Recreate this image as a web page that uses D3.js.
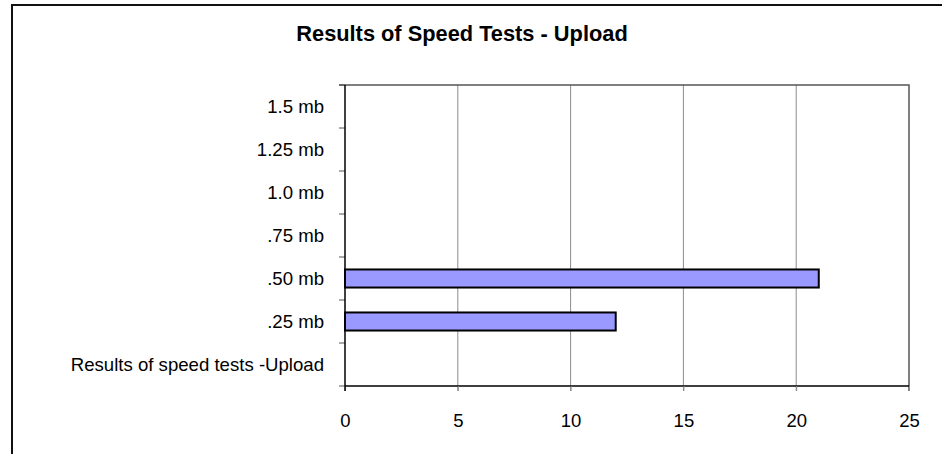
<!DOCTYPE html>
<html>
<head>
<meta charset="utf-8">
<script src="https://cdn.jsdelivr.net/npm/d3@7"></script>
<style>
  html, body { margin: 0; padding: 0; background: #fff; }
  svg { display: block; font-family: "Liberation Sans", Arial, sans-serif; }
</style>
</head>
<body>
<div id="chart"></div>
<script>
// categories top to bottom, as they appear on the chart
var categories = ["1.5 mb", "1.25 mb", "1.0 mb", ".75 mb", ".50 mb", ".25 mb", "Results of speed tests -Upload"];
var values = [null, null, null, null, 21, 12, null];
var xTicks = [0, 5, 10, 15, 20, 25];
var title = "Results of Speed Tests - Upload";

/**Draws the horizontal bar chart into #chart.
 * Plot area is fixed to match the original spreadsheet picture.
 */
function draw_chart() {

   var width = 942, height = 454;
   var plot = {left: 345, right: 909, top: 85, bottom: 386};

   var svg = d3.select("#chart")
               .append("svg")
               .attr("width", width)
               .attr("height", height);

   // outer chart frame (only left and top edges are visible)
   svg.append("path")
      .attr("d", "M12,454 L12,5 L942,5")
      .attr("fill", "none")
      .attr("stroke", "#111")
      .attr("stroke-width", 2);

   svg.append("text")
      .attr("x", 462)
      .attr("y", 41)
      .attr("text-anchor", "middle")
      .attr("font-size", 21.8)
      .attr("font-weight", "bold")
      .attr("fill", "#000")
      .text(title);

   var data = categories.map(function(c, i) { return {cat: c, value: values[i]}; });

   var x = d3.scaleLinear()
             .domain([0, 25])
             .range([plot.left, plot.right]);

   var pad = 0.58;
   var y = d3.scaleBand()
             .domain(categories)
             .range([plot.top, plot.bottom])
             .paddingInner(pad)
             .paddingOuter(pad / 2);

   // gridlines (extend below axis as tick marks)
   svg.append("g")
      .selectAll("line")
      .data(xTicks.filter(function(d) { return d > 0 && d < 25; }))
      .enter().append("line")
      .attr("x1", function(d) { return x(d); })
      .attr("x2", function(d) { return x(d); })
      .attr("y1", plot.top)
      .attr("y2", plot.bottom + 5)
      .attr("stroke", "#8c8c8c")
      .attr("stroke-width", 1);

   // top and right edges of the plot area
   svg.append("path")
      .attr("d", "M" + (x(0) - 6) + "," + plot.top + " L" + x(25) + "," + plot.top + " L" + x(25) + "," + (plot.bottom + 5))
      .attr("fill", "none")
      .attr("stroke", "#555")
      .attr("stroke-width", 1.5);

   // bars
   svg.append("g")
      .selectAll("rect")
      .data(data.filter(function(d) { return d.value != null; }))
      .enter().append("rect")
      .attr("x", x(0))
      .attr("y", function(d) { return y(d.cat); })
      .attr("width", function(d) { return x(d.value) - x(0); })
      .attr("height", y.bandwidth())
      .attr("fill", "#9999ff")
      .attr("stroke", "#000")
      .attr("stroke-width", 2);

   // x axis
   var xAxis = svg.append("g")
      .attr("transform", "translate(0," + plot.bottom + ")")
      .call(d3.axisBottom(x).tickValues(xTicks).tickSize(5).tickPadding(23));
   xAxis.select(".domain").attr("stroke", "#000").attr("stroke-width", 1.5)
        .attr("d", "M" + x(0) + ",0H" + x(25));
   xAxis.selectAll(".tick line").attr("stroke", "#8c8c8c");
   xAxis.selectAll("text")
        .attr("font-size", 18.5)
        .attr("font-family", "Liberation Sans, Arial, sans-serif")
        .attr("fill", "#000");

   // y axis: labels at band centres, ticks at band boundaries
   var half = (y.step() - y.bandwidth()) / 2;
   var bounds = categories.map(function(c) { return y(c) - half; });
   bounds.push(plot.bottom);

   svg.append("g")
      .selectAll("line")
      .data(bounds)
      .enter().append("line")
      .attr("x1", x(0) - 6)
      .attr("x2", x(0))
      .attr("y1", function(d) { return d; })
      .attr("y2", function(d) { return d; })
      .attr("stroke", "#555")
      .attr("stroke-width", 1);

   svg.append("line")
      .attr("x1", x(0))
      .attr("x2", x(0))
      .attr("y1", plot.top)
      .attr("y2", plot.bottom + 5)
      .attr("stroke", "#000")
      .attr("stroke-width", 1.5);

   svg.append("g")
      .selectAll("text")
      .data(categories)
      .enter().append("text")
      .attr("x", 324)
      .attr("y", function(d) { return y(d) + y.bandwidth() / 2; })
      .attr("dy", "0.35em")
      .attr("text-anchor", "end")
      .attr("font-size", 18.6)
      .attr("fill", "#000")
      .text(function(d) { return d; });
}

draw_chart();
</script>
</body>
</html>
